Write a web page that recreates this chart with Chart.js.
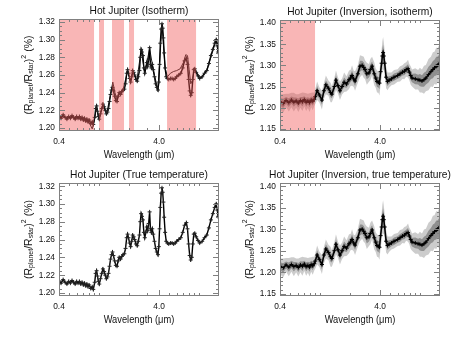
<!DOCTYPE html>
<html>
<head>
<meta charset="utf-8">
<script src="https://cdn.jsdelivr.net/npm/chart.js@4.4.0/dist/chart.umd.min.js"></script>
<style>
  body { margin: 0; background: #fff; width: 474px; height: 338px; position: relative; overflow: hidden; }
  .panel { position: absolute; width: 237px; height: 169px; }
</style>
</head>
<body>
<div class="panel" style="left:0;top:0"><canvas id="c1"></canvas></div>
<div class="panel" style="left:237px;top:0"><canvas id="c2"></canvas></div>
<div class="panel" style="left:0;top:169px"><canvas id="c3"></canvas></div>
<div class="panel" style="left:237px;top:169px"><canvas id="c4"></canvas></div>
<script>
// wavelength (micron) and transit depth (%)
const trueWl = [
  0.40,0.42,0.44,0.46,0.48,0.50,0.52,0.54,0.56,0.58,
  0.60,0.62,0.64,0.66,0.68,0.70,0.72,0.74,0.76,0.78,
  0.80,0.83,0.86,0.88,0.91,0.93,0.95,0.97,0.99,1.01,
  1.04,1.07,1.10,1.13,1.16,1.19,1.22,1.25,1.28,1.31,
  1.34,1.37,1.40,1.44,1.48,1.52,1.56,1.60,1.65,1.70,
  1.75,1.80,1.85,1.90,1.94,1.98,2.03,2.08,2.13,2.18,
  2.23,2.28,2.35,2.42,2.48,2.55,2.60,2.65,2.70,2.76,
  2.82,2.88,2.95,3.02,3.08,3.15,3.22,3.28,3.35,3.42,
  3.50,3.60,3.70,3.80,3.90,3.98,4.05,4.12,4.20,4.28,
  4.35,4.42,4.50,4.60,4.72,4.85,5.0,5.2,5.4,5.6,
  5.8,6.0,6.3,6.6,6.9,7.2,7.5,7.7,7.9,8.1,
  8.3,8.5,8.7,8.9,9.1,9.4,9.8,10.2,10.8,11.4,
  12.0,12.6,13.2,13.8,14.4,14.9,15.3,15.6,15.9];
const trueVal = [
  1.214,1.211,1.215,1.212,1.210,1.213,1.211,1.214,1.212,1.210,
  1.213,1.211,1.213,1.210,1.212,1.209,1.211,1.208,1.210,1.207,
  1.209,1.205,1.207,1.204,1.212,1.222,1.225,1.219,1.213,1.210,
  1.216,1.222,1.227,1.224,1.220,1.216,1.218,1.222,1.230,1.238,
  1.243,1.246,1.242,1.236,1.231,1.230,1.236,1.240,1.238,1.241,
  1.243,1.244,1.250,1.262,1.266,1.262,1.256,1.252,1.258,1.265,
  1.263,1.260,1.255,1.253,1.258,1.265,1.280,1.289,1.286,1.282,
  1.268,1.262,1.268,1.274,1.270,1.278,1.291,1.272,1.268,1.272,
  1.266,1.258,1.250,1.246,1.243,1.252,1.272,1.296,1.312,1.318,
  1.313,1.302,1.285,1.268,1.258,1.256,1.255,1.256,1.256,1.255,
  1.256,1.258,1.260,1.262,1.268,1.276,1.279,1.272,1.255,1.242,
  1.237,1.240,1.255,1.266,1.267,1.263,1.259,1.256,1.258,1.262,
  1.265,1.273,1.282,1.289,1.296,1.300,1.293,1.286,1.288];

// isothermal model curve (top left)
const isoWl = [0.40,0.50,0.60,0.70,0.80,0.86,0.90,0.95,1.00,1.10,1.20,1.30,1.38,1.45,1.52,1.60,
  1.75,1.94,2.08,2.20,2.40,2.65,2.88,3.22,3.50,3.90,4.28,4.60,4.85,5.2,5.6,6.0,6.5,7.0,7.4,7.7,
  8.0,8.3,8.6,9.0,9.4,10.5,12.0,14.0,15.0,15.9];
const isoVal = [1.213,1.212,1.212,1.210,1.206,1.199,1.208,1.223,1.211,1.226,1.217,1.236,1.252,1.240,
  1.232,1.240,1.244,1.264,1.253,1.264,1.254,1.288,1.262,1.290,1.266,1.243,1.317,1.268,1.258,1.262,
  1.264,1.265,1.267,1.274,1.283,1.282,1.266,1.250,1.254,1.266,1.263,1.257,1.265,1.290,1.300,1.288];

// inversion spectrum (right panels) with its error half-width
const invWl = [
  0.40,0.43,0.46,0.49,0.52,0.55,0.58,0.61,0.64,0.67,
  0.70,0.73,0.76,0.79,0.82,0.85,0.88,0.90,0.94,0.99,
  1.05,1.10,1.15,1.22,1.28,1.32,1.40,1.45,1.52,1.59,
  1.67,1.75,1.85,1.96,2.03,2.10,2.18,2.25,2.40,2.52,
  2.65,2.75,2.83,2.95,3.10,3.20,3.33,3.50,3.62,3.73,
  3.85,3.95,4.05,4.15,4.22,4.29,4.36,4.45,4.60,4.75,
  4.92,5.20,5.52,6.00,6.34,6.70,7.00,7.30,7.62,7.85,
  8.10,8.36,9.00,9.60,10.0,10.5,11.0,11.5,12.2,12.9,
  13.5,14.0,14.6,15.0,15.5,15.9];
const invVal = [
  1.214,1.210,1.217,1.212,1.218,1.213,1.216,1.211,1.217,1.214,
  1.219,1.213,1.216,1.212,1.218,1.215,1.220,1.226,1.240,1.230,
  1.218,1.240,1.254,1.246,1.236,1.232,1.250,1.265,1.252,1.240,
  1.250,1.260,1.256,1.266,1.270,1.276,1.268,1.263,1.280,1.298,
  1.300,1.295,1.290,1.280,1.282,1.290,1.298,1.280,1.270,1.262,
  1.260,1.258,1.285,1.305,1.322,1.330,1.322,1.305,1.272,1.262,
  1.265,1.268,1.272,1.276,1.280,1.284,1.286,1.290,1.292,1.284,
  1.276,1.270,1.268,1.266,1.265,1.263,1.266,1.270,1.278,1.285,
  1.290,1.294,1.298,1.300,1.302,1.305];
const invErr = [
  0.018,0.022,0.016,0.021,0.017,0.022,0.016,0.021,0.017,0.022,
  0.016,0.021,0.017,0.022,0.017,0.021,0.016,0.018,0.022,0.018,
  0.022,0.019,0.022,0.018,0.023,0.019,0.021,0.023,0.019,0.022,
  0.019,0.023,0.018,0.022,0.019,0.024,0.019,0.023,0.021,0.026,
  0.022,0.025,0.022,0.026,0.021,0.025,0.022,0.027,0.023,0.026,
  0.025,0.029,0.030,0.033,0.035,0.037,0.033,0.030,0.026,0.021,
  0.018,0.015,0.017,0.015,0.018,0.016,0.019,0.017,0.021,0.019,
  0.022,0.020,0.025,0.023,0.029,0.027,0.033,0.031,0.037,0.035,
  0.041,0.038,0.044,0.040,0.045,0.043];

const xTicks = [0.4, 4.0];
const yTicksLeft = [1.20, 1.22, 1.24, 1.26, 1.28, 1.30, 1.32];
const yTicksRight = [1.15, 1.20, 1.25, 1.30, 1.35, 1.40];
const shadeIso = [[0.4, 0.896], [1.005, 1.127], [1.355, 1.786], [2.005, 2.249], [4.81, 9.38]];
const shadeInvIso = [[0.4, 0.896]];

const FONT = '"Liberation Sans", Arial, sans-serif';
const SQ = 0.93; // picture is a little narrow

function pts(xs, ys, off, k) {
  return xs.map((w, i) => ({ x: w, y: ys[i] + (off ? off[i] * k : 0) }));
}

function squish(ctx, s, x, y, align) {
  ctx.save();
  ctx.translate(x, y);
  ctx.scale(SQ, 1);
  ctx.textAlign = align;
  ctx.fillText(s, 0, 0);
  ctx.restore();
}

const deco = {
  id: 'deco',
  afterDatasetsDraw(chart, args, o) {
    const { ctx, chartArea: a, scales: { x } } = chart;
    ctx.save();
    ctx.fillStyle = 'rgba(240,80,80,0.42)';
    (o.shade || []).forEach(([w0, w1]) => {
      const p0 = x.getPixelForValue(w0), p1 = x.getPixelForValue(w1);
      ctx.fillRect(p0, a.top, p1 - p0, a.bottom - a.top);
    });
    ctx.restore();
  },
  afterDraw(chart, args, o) {
    const { ctx, chartArea: a, scales: { x, y } } = chart;
    ctx.save();
    ctx.strokeStyle = '#808080';
    ctx.lineWidth = 1;
    ctx.strokeRect(a.left + 0.5, a.top + 0.5, a.right - a.left - 1, a.bottom - a.top - 1);

    // x ticks (log minor + major), drawn inward
    ctx.beginPath();
    for (let d = 0.1; d < 100; d *= 10) {
      for (let k = 1; k < 10; k++) {
        const v = k * d;
        if (v < x.min - 1e-9 || v > x.max) continue;
        const px = Math.round(x.getPixelForValue(v)) + 0.5;
        const major = xTicks.some(t => Math.abs(t - v) < 1e-6);
        const len = major ? 6 : 3;
        ctx.moveTo(px, a.bottom); ctx.lineTo(px, a.bottom - len);
        ctx.moveTo(px, a.top); ctx.lineTo(px, a.top + len);
      }
    }
    // y ticks
    const step = o.yMinor;
    for (let v = Math.ceil(y.min / step - 1e-6) * step; v <= y.max; v += step) {
      const py = Math.round(y.getPixelForValue(v)) + 0.5;
      const major = o.yTicks.some(t => Math.abs(t - v) < 1e-6);
      const len = major ? 6 : 3;
      ctx.moveTo(a.left, py); ctx.lineTo(a.left + len, py);
      ctx.moveTo(a.right, py); ctx.lineTo(a.right - len, py);
    }
    ctx.stroke();

    ctx.fillStyle = '#111';
    ctx.textBaseline = 'middle';
    ctx.font = '9px ' + FONT;
    o.yTicks.forEach(t => squish(ctx, t.toFixed(2), a.left - 4, y.getPixelForValue(t), 'right'));
    xTicks.forEach(t => squish(ctx, t.toFixed(1), x.getPixelForValue(t), a.bottom + 10.5, 'center'));

    ctx.font = '10px ' + FONT;
    squish(ctx, 'Wavelength (\u03bcm)', (a.left + a.right) / 2, a.bottom + 24.5, 'center');
    ctx.font = '11px ' + FONT;
    squish(ctx, o.title, (a.left + a.right) / 2, a.top - 8.5, 'center');

    // y label with sub/superscripts
    const parts = [
      ['(R', 10.5, 0], ['planet', 7, 2.5], ['/R', 10.5, 0], ['star', 7, 2.5],
      [')', 10.5, 0], ['2', 7, -4.5], [' (%)', 10.5, 0]
    ];
    let total = 0;
    parts.forEach(p => { ctx.font = p[1] + 'px ' + FONT; total += ctx.measureText(p[0]).width; });
    ctx.save();
    ctx.translate(a.left - 30, (a.top + a.bottom) / 2);
    ctx.rotate(-Math.PI / 2);
    ctx.textAlign = 'left';
    let cx = -total / 2;
    parts.forEach(p => {
      ctx.font = p[1] + 'px ' + FONT;
      ctx.fillText(p[0], cx, p[2]);
      cx += ctx.measureText(p[0]).width;
    });
    ctx.restore();
    ctx.restore();
  }
};

function makeChart(id, box, yRange, yTicks, yMinor, title, shade, datasets) {
  const W = 237, H = 169;
  return new Chart(document.getElementById(id), {
    type: 'line',
    data: { datasets },
    options: {
      animation: false,
      responsive: true,
      maintainAspectRatio: false,
      layout: { padding: { left: 0, right: W - box.r, top: box.t, bottom: 0 } },
      plugins: {
        legend: { display: false },
        title: { display: false },
        tooltip: { enabled: false },
        deco: { title, shade, yTicks, yMinor }
      },
      scales: {
        x: {
          type: 'logarithmic', min: 0.4, max: 15.9,
          ticks: { display: false }, grid: { display: false }, border: { display: false },
          afterFit: s => { s.height = H - box.b; }
        },
        y: {
          min: yRange[0], max: yRange[1],
          ticks: { display: false }, grid: { display: false }, border: { display: false },
          afterFit: s => { s.width = box.l; }
        }
      }
    },
    plugins: [deco]
  });
}

function dataSet(xs, ys) {
  return {
    data: pts(xs, ys), borderColor: '#000', borderWidth: 1.4, tension: 0,
    pointStyle: 'cross', pointRadius: 2, pointBorderWidth: 1,
    pointBorderColor: '#222', pointBackgroundColor: '#000'
  };
}
function modelSet(xs, ys) {
  return { data: pts(xs, ys), borderColor: '#222', borderWidth: 1, pointRadius: 0, tension: 0 };
}
function invSets() {
  const band = (k, fillTo, color) => ({
    data: pts(invWl, invVal, invErr, k), borderWidth: 0, pointRadius: 0,
    fill: fillTo, backgroundColor: color, borderColor: 'rgba(0,0,0,0)'
  });
  return [
    { data: pts(invWl, invVal), borderColor: '#000', borderWidth: 1.5, tension: 0,
      pointStyle: 'cross', pointRadius: 2, pointBorderWidth: 1, pointBorderColor: '#000' },
    band(0.5, '+1', 'rgba(0,0,0,0.30)'),
    band(-0.5, false, 'rgba(0,0,0,0)'),
    band(1, '+1', 'rgba(0,0,0,0.20)'),
    band(-1, false, 'rgba(0,0,0,0)')
  ];
}

const yLeft = [1.1966, 1.3234];
const yRight = [1.145, 1.407];

makeChart('c1', { l: 59, r: 219, t: 19, b: 131 }, yLeft, yTicksLeft, 0.005,
  'Hot Jupiter (Isotherm)', shadeIso,
  [dataSet(trueWl, trueVal), modelSet(isoWl, isoVal)]);
makeChart('c2', { l: 43, r: 203, t: 20, b: 131 }, yRight, yTicksRight, 0.01,
  'Hot Jupiter (Inversion, isotherm)', shadeInvIso, invSets());
makeChart('c3', { l: 59, r: 219, t: 14, b: 127 }, yLeft, yTicksLeft, 0.005,
  'Hot Jupiter (True temperature)', [], [dataSet(trueWl, trueVal)]);
makeChart('c4', { l: 43, r: 203, t: 14, b: 127 }, yRight, yTicksRight, 0.01,
  'Hot Jupiter (Inversion, true temperature)', [], invSets());
</script>
</body>
</html>
